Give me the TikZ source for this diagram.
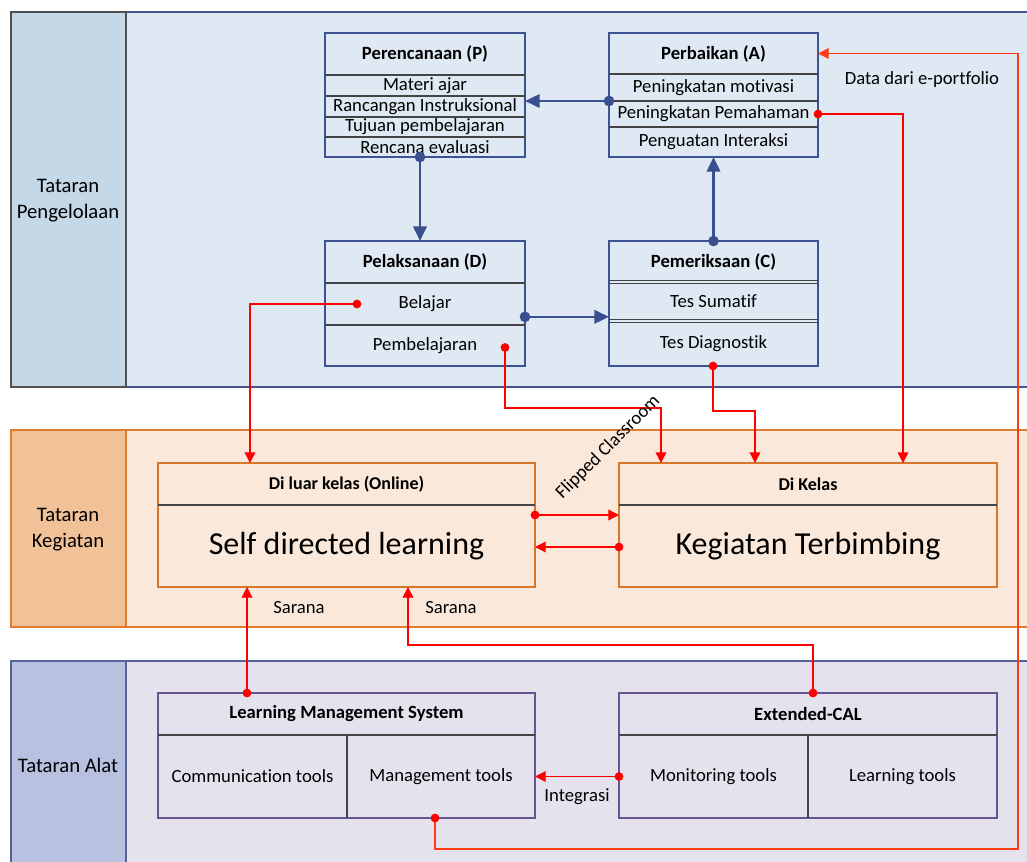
\documentclass[tikz,border=0pt]{standalone}
\usepackage{fontspec}
\setmainfont{Carlito}[Ligatures=NoCommon]
\usetikzlibrary{arrows.meta}
\definecolor{bOneLeft}{HTML}{C5D8E8}
\definecolor{bOneMain}{HTML}{DFE9F3}
\definecolor{bOneLine}{HTML}{44548F}
\definecolor{bOneLeftLine}{HTML}{505050}
\definecolor{bTwoLeft}{HTML}{F1C197}
\definecolor{bTwoMain}{HTML}{FAE9DB}
\definecolor{bTwoLine}{HTML}{E07B30}
\definecolor{bThrLeft}{HTML}{B8C2E0}
\definecolor{bThrMain}{HTML}{E5E2EE}
\definecolor{bThrLine}{HTML}{56629A}
\definecolor{boxOne}{HTML}{3C5292}
\definecolor{boxTwo}{HTML}{D6772B}
\definecolor{boxThr}{HTML}{645690}
\definecolor{divc}{HTML}{444444}
\definecolor{conBlue}{HTML}{3A4F8F}
\definecolor{conRed}{HTML}{FF0000}
\definecolor{conOr}{HTML}{FF3C14}
\begin{document}
\begin{tikzpicture}[x=0.75pt, y=-0.75pt,
  every node/.style={font=\fontsize{14}{17}\selectfont, text=black},
  hdr/.style={font=\fontsize{14}{17}\selectfont\bfseries},
  big/.style={font=\fontsize{24}{29}\selectfont},
  cell/.style={anchor=north west, inner sep=0pt, outer sep=0pt},
  boxA/.style={anchor=north west, inner sep=0pt, outer sep=0pt, draw=boxOne, line width=1.8pt, fill=bOneMain},
  boxB/.style={boxA, draw=boxTwo, fill=bTwoMain},
  boxC/.style={boxA, draw=boxThr, fill=bThrMain},
  divline/.style={draw=divc, line width=1pt},
  bconn/.style={draw=conBlue, line width=2pt, -{Triangle[length=11pt,width=10pt]}},
  rconn/.style={draw=conRed, line width=1pt, -{Triangle[length=8pt,width=8pt]}},
  oconn/.style={rconn, draw=conOr},
  bandlbl/.style={font=\fontsize{15.5}{19.5}\selectfont, align=center},
]
\useasboundingbox (0,0) rectangle (1027,861);
\clip (0,0) rectangle (1027,861);
\fill[white] (0,0) rectangle (1027,861);

% bands
\filldraw[fill=bOneMain, draw=bOneLine, line width=1.5pt] (126,12) rectangle (1040,387);
\filldraw[fill=bOneLeft, draw=bOneLeftLine, line width=1.5pt] (11,12) rectangle (126,387);
\filldraw[fill=bTwoMain, draw=bTwoLine, line width=1.5pt] (126,430) rectangle (1040,627);
\filldraw[fill=bTwoLeft, draw=bTwoLine, line width=1.5pt] (11,430) rectangle (126,627);
\filldraw[fill=bThrMain, draw=bThrLine, line width=1.5pt] (126,661) rectangle (1040,880);
\filldraw[fill=bThrLeft, draw=bThrLine, line width=1.5pt] (11,661) rectangle (126,880);
\node[bandlbl] (L1) at (68,201) {Tataran\\Pengelolaan};
\node[bandlbl] (L2) at (68,530) {Tataran\\Kegiatan};
\node[bandlbl] (L3) at (68,765) {Tataran Alat};

% P box
\node[boxA, minimum width=200*0.75pt, minimum height=124*0.75pt] (P) at (325,33) {};
\node[cell, hdr, minimum width=200*0.75pt, minimum height=42*0.75pt] (Ph) at (325,33) {Perencanaan (P)};
\node[cell, minimum width=200*0.75pt, minimum height=21*0.75pt] (P1) at (325,75) {Materi ajar};
\node[cell, minimum width=200*0.75pt, minimum height=21*0.75pt] (P2) at (325,96) {Rancangan Instruksional};
\node[cell, minimum width=200*0.75pt, minimum height=20*0.75pt] (P3) at (325,117) {Tujuan pembelajaran};
\node[cell, minimum width=200*0.75pt, minimum height=20*0.75pt] (P4) at (325,137) {Rencana evaluasi};
\foreach \r in {Ph,P1,P2,P3} \draw[divline] (\r.south west) -- (\r.south east);

% A box
\node[boxA, minimum width=209*0.75pt, minimum height=124*0.75pt] (A) at (609,33) {};
\node[cell, hdr, minimum width=209*0.75pt, minimum height=41*0.75pt] (Ah) at (609,33) {Perbaikan (A)};
\node[cell, minimum width=209*0.75pt, minimum height=27*0.75pt] (A1) at (609,74) {Peningkatan motivasi};
\node[cell, minimum width=209*0.75pt, minimum height=26*0.75pt] (A2) at (609,101) {Peningkatan Pemahaman};
\node[cell, minimum width=209*0.75pt, minimum height=30*0.75pt] (A3) at (609,127) {Penguatan Interaksi};
\foreach \r in {Ah,A1,A2} \draw[divline] (\r.south west) -- (\r.south east);

% D box
\node[boxA, minimum width=200*0.75pt, minimum height=125*0.75pt] (D) at (325,241) {};
\node[cell, hdr, minimum width=200*0.75pt, minimum height=42*0.75pt] (Dh) at (325,241) {Pelaksanaan (D)};
\node[cell, minimum width=200*0.75pt, minimum height=42*0.75pt] (D1) at (325,283) {Belajar};
\node[cell, minimum width=200*0.75pt, minimum height=41*0.75pt] (D2) at (325,325) {Pembelajaran};
\foreach \r in {Dh,D1} \draw[divline] (\r.south west) -- (\r.south east);

% C box
\node[boxA, minimum width=209*0.75pt, minimum height=125*0.75pt] (C) at (609,241) {};
\node[cell, hdr, minimum width=209*0.75pt, minimum height=41*0.75pt] (Ch) at (609,241) {Pemeriksaan (C)};
\node[cell, minimum width=209*0.75pt, minimum height=39*0.75pt] (C1) at (609,282) {Tes Sumatif};
\node[cell, minimum width=209*0.75pt, minimum height=45*0.75pt] (C2) at (609,321) {Tes Diagnostik};
\foreach \r in {Ch,C1} {
  \draw[divline] ([yshift=0.9pt]\r.south west) -- ([yshift=0.9pt]\r.south east);
  \draw[divline] ([yshift=-0.9pt]\r.south west) -- ([yshift=-0.9pt]\r.south east);
}

% activity boxes
\node[boxB, minimum width=377*0.75pt, minimum height=124*0.75pt] (On) at (158,463) {};
\node[cell, hdr, font=\fontsize{13.5}{16}\selectfont\bfseries, minimum width=377*0.75pt, minimum height=42*0.75pt] (Onh) at (158,463) {Di luar kelas (Online)};
\node[cell, big, minimum width=377*0.75pt, minimum height=82*0.75pt] (On1) at (158,505) {Self directed learning};
\draw[divline] (Onh.south west) -- (Onh.south east);

\node[boxB, minimum width=378*0.75pt, minimum height=124*0.75pt] (DK) at (619,463) {};
\node[cell, hdr, font=\fontsize{13.5}{16}\selectfont\bfseries, minimum width=378*0.75pt, minimum height=42*0.75pt] (DKh) at (619,463) {Di Kelas};
\node[cell, big, minimum width=378*0.75pt, minimum height=82*0.75pt] (DK1) at (619,505) {Kegiatan Terbimbing};
\draw[divline] (DKh.south west) -- (DKh.south east);

% tool boxes
\node[boxC, minimum width=377*0.75pt, minimum height=125*0.75pt] (LMS) at (158,693) {};
\node[cell, hdr, minimum width=377*0.75pt, minimum height=42*0.75pt] (LMSh) at (158,693) {Learning Management System};
\node[cell, minimum width=189*0.75pt, minimum height=83*0.75pt] (LMS1) at (158,735) {Communication tools};
\node[cell, minimum width=188*0.75pt, minimum height=83*0.75pt] (LMS2) at (347,735) {Management tools};
\draw[divline] (LMSh.south west) -- (LMSh.south east);
\draw[divline] (LMS1.north east) -- (LMS1.south east);

\node[boxC, minimum width=378*0.75pt, minimum height=125*0.75pt] (EC) at (619,693) {};
\node[cell, hdr, minimum width=378*0.75pt, minimum height=42*0.75pt] (ECh) at (619,693) {Extended-CAL};
\node[cell, minimum width=189*0.75pt, minimum height=83*0.75pt] (EC1) at (619,735) {Monitoring tools};
\node[cell, minimum width=189*0.75pt, minimum height=83*0.75pt] (EC2) at (808,735) {Learning tools};
\draw[divline] (ECh.south west) -- (ECh.south east);
\draw[divline] (EC1.north east) -- (EC1.south east);

% blue PDCA connectors
\draw[bconn] (A1.south west) -- (A1.south west -| P.east);
\fill[conBlue] (A1.south west) circle[radius=4pt];
\draw[bconn] ([xshift=-3.75pt]P.south) -- ([xshift=-3.75pt]D.north);
\fill[conBlue] ([xshift=-3.75pt]P.south) circle[radius=4pt];
\draw[bconn] ([yshift=-10pt]D.east) -- ([yshift=-10pt]C.west);
\fill[conBlue] ([yshift=-10pt]D.east) circle[radius=4pt];
\draw[bconn] (C.north) -- (A.south);
\fill[conBlue] (C.north) circle[radius=4pt];

% red connectors
\coordinate (pbend) at (580,408);
\coordinate (cbend) at (730,411);
\coordinate (eport) at (1018,849);
\draw[rconn] ([xshift=24pt]D1.west) -| ([xshift=69pt]On.north west);
\fill[conRed] ([xshift=24pt]D1.west) circle[radius=3.3pt];
\draw[rconn] ([xshift=-15pt,yshift=-1.5pt]D2.east) |- (pbend) -| ([xshift=31.5pt]DK.north west);
\fill[conRed] ([xshift=-15pt,yshift=-1.5pt]D2.east) circle[radius=3.3pt];
\draw[rconn] ([xshift=-0.4pt]C.south) |- (cbend) -| ([xshift=102pt]DK.north west);
\fill[conRed] ([xshift=-0.4pt]C.south) circle[radius=3.3pt];
\draw[rconn] (A2.east) -| ([xshift=213pt]DK.north west);
\fill[conRed] (A2.east) circle[radius=3.3pt];
\draw[rconn] ([yshift=7.5pt]On.east) -- ([yshift=7.5pt]DK.west);
\fill[conRed] ([yshift=7.5pt]On.east) circle[radius=3.3pt];
\draw[rconn] ([yshift=-16.5pt]DK.west) -- ([yshift=-16.5pt]On.east);
\fill[conRed] ([yshift=-16.5pt]DK.west) circle[radius=3.3pt];
\draw[rconn] ([xshift=66.75pt]LMS.north west) -- ([xshift=66.75pt]On.south west);
\fill[conRed] ([xshift=66.75pt]LMS.north west) circle[radius=3.3pt];
\draw[rconn] ([xshift=145.5pt]EC.north west) -- ++(0,-48) -| ([xshift=187.5pt]On.south west);
\fill[conRed] ([xshift=145.5pt]EC.north west) circle[radius=3.3pt];
\draw[rconn] (EC1.west) -- (EC1.west -| LMS.east);
\fill[conRed] (EC1.west) circle[radius=3.3pt];
\draw[oconn] ([xshift=207.75pt]LMS.south west) |- (eport) |- (Ah.east);
\fill[conRed] ([xshift=207.75pt]LMS.south west) circle[radius=3.3pt];

% labels
\node (s1) at (299,607) {Sarana};
\node (s2) at (451,607) {Sarana};
\node (ig) at (577,797) {Integrasi};
\node (dp) at (922,80) {Data dari e-portfolio};
\node[rotate=45] (fc) at (608,447) {Flipped Classroom};
\end{tikzpicture}
\end{document}
